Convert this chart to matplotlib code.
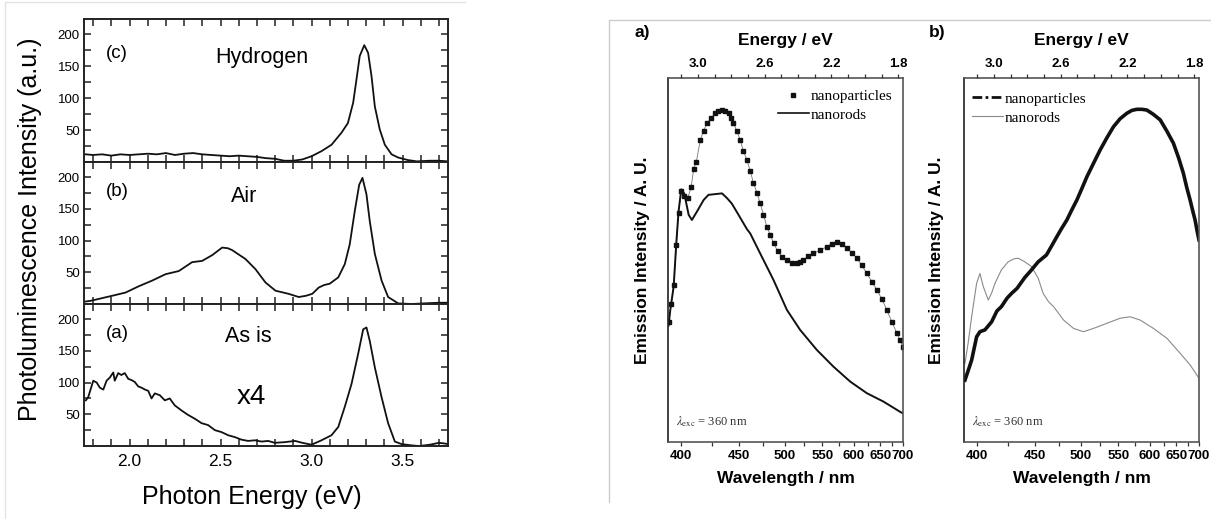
import matplotlib.pyplot as plt
import numpy as np
from matplotlib.lines import Line2D
from matplotlib.ticker import FixedLocator, FixedFormatter, MultipleLocator, NullFormatter

# ---- left figure: PL spectra vs photon energy (eV), intensity (a.u.)
hydrogen_ev = [1.76, 1.80, 1.85, 1.90, 1.95, 2.00, 2.05, 2.10, 2.15, 2.20, 2.25, 2.30,
               2.35, 2.40, 2.45, 2.50, 2.55, 2.60, 2.65, 2.70, 2.75, 2.80, 2.85, 2.90,
               2.95, 3.00, 3.055, 3.11, 3.165, 3.20, 3.229, 3.247, 3.265, 3.29, 3.311,
               3.33, 3.348, 3.375, 3.403, 3.44, 3.476, 3.53, 3.58, 3.65, 3.70, 3.75]
hydrogen_pl = [12, 11, 12, 10, 12, 11, 12, 13, 12, 14, 11, 13,
               14, 12, 11, 10, 9, 10, 9, 8, 6, 5, 2, 2,
               4, 9, 17, 27, 46, 61, 93, 129, 166, 183, 171,
               134, 87, 51, 27, 12, 7, 3, 1, 2, 2, 1]

air_ev = [1.76, 1.786, 1.831, 1.905, 1.978, 2.051, 2.125, 2.198, 2.271, 2.344, 2.399,
          2.454, 2.509, 2.54, 2.564, 2.637, 2.692, 2.747, 2.802, 2.875, 2.93, 2.97,
          3.004, 3.04, 3.07, 3.10, 3.147, 3.183, 3.21, 3.238, 3.262, 3.28, 3.302,
          3.32, 3.348, 3.385, 3.421, 3.476, 3.55, 3.62, 3.70, 3.75]
air_pl = [4, 5, 8, 13, 18, 28, 37, 47, 52, 66, 68,
          77, 89, 88, 85, 71, 55, 34, 21, 16, 11, 13,
          16, 26, 30, 32, 42, 63, 94, 147, 188, 199, 173,
          131, 79, 37, 11, 1, 0, 1, 2, 2]

asis_ev = [1.76, 1.773, 1.801, 1.82, 1.837, 1.856, 1.874, 1.892, 1.911, 1.919, 1.938,
           1.955, 1.974, 1.993, 2.011, 2.029, 2.048, 2.066, 2.085, 2.103, 2.121, 2.139,
           2.167, 2.194, 2.221, 2.249, 2.286, 2.322, 2.359, 2.396, 2.432, 2.469, 2.505,
           2.542, 2.579, 2.615, 2.652, 2.689, 2.725, 2.762, 2.798, 2.85, 2.91, 2.95,
           3.00, 3.055, 3.11, 3.147, 3.183, 3.22, 3.256, 3.284, 3.302, 3.32, 3.348,
           3.385, 3.421, 3.458, 3.495, 3.55, 3.59, 3.65, 3.70, 3.73, 3.75]
asis_pl = [72, 77, 103, 100, 92, 89, 103, 108, 116, 103, 115,
           112, 115, 106, 104, 101, 94, 92, 89, 87, 75, 83,
           80, 72, 75, 64, 56, 49, 43, 36, 33, 25, 22,
           17, 14, 10, 8, 9, 7, 8, 5, 6, 8, 5,
           2, 9, 17, 30, 62, 98, 145, 184, 187, 166, 124,
           77, 36, 7, 3, 1, 0, 2, 5, 4, 3]

# ---- right figure a): emission vs wavelength (nm)
a_np_nm = [390.4, 392.5, 394.2, 396.2, 397.9, 400.0, 402.3, 405.0, 407.8, 409.8, 412.0,
           415.3, 418.0, 420.9, 424.5, 428.1, 431.0, 434.0, 437.0, 440.2, 442.5, 444.9,
           448.0, 451.4, 454.5, 458.1, 461.5, 464.9, 468.5, 472.0, 475.5, 479.3, 483.0,
           486.8, 491.5, 496.6, 502.6, 508.5, 515.2, 519.5, 523.6, 530.0, 537.3, 547.0,
           556.6, 564.0, 572.0, 580.0, 588.2, 596.5, 605.5, 614.5, 623.8, 633.5, 643.2,
           653.5, 663.8, 674.5, 685.8, 693.0, 699.4]
a_np_int = [33, 38, 43, 54, 63, 69, 67.5, 67, 70, 75, 77,
            83, 85.5, 87.6, 89, 90.3, 91, 91.2, 91, 90.3, 89, 87.6,
            85.5, 83, 80, 77.5, 74.5, 71.1, 68.5, 65.6, 62.5, 59.2, 57,
            54.6, 52.5, 50.9, 50, 49.3, 49.1, 49.5, 50, 51, 51.8, 52.8,
            53.6, 54.5, 55, 54.5, 53.2, 52, 50.5, 48.5, 46.3, 44, 41.8,
            39.2, 36.3, 33, 29.9, 28, 26.2]

a_nr_nm = [390.4, 391.7, 394.2, 396.2, 397.9, 400.0, 402.3, 405.8, 408.4, 412.5, 418.1,
           422.2, 428.1, 434.2, 438.8, 443.3, 449.8, 458.1, 461.5, 472.0, 486.8, 502.6,
           519.3, 542.0, 566.7, 593.9, 623.8, 656.6, 693.1, 699.4]
a_nr_int = [32, 36.3, 42.7, 54.6, 63.3, 69.4, 68.3, 62.4, 61, 63.3, 66.5,
            67.9, 68.1, 68.3, 67, 65.5, 62.4, 58.5, 57.3, 51.8, 44.5, 36.3,
            30.8, 25.3, 20.7, 16.6, 13.4, 11.1, 8.3, 7.9]

# ---- right figure b)
b_np_nm = [390.7, 393.0, 395.7, 399.5, 402.1, 406.0, 411.4, 415.8, 419.6, 424.4, 428.3,
           433.3, 440.5, 446.0, 453.4, 461.8, 467.0, 472.7, 478.0, 483.8, 489.5, 495.4,
           501.5, 507.6, 516.0, 524.5, 533.5, 542.9, 552.5, 562.6, 570.5, 578.4, 586.5,
           595.0, 606.5, 618.8, 631.0, 644.2, 655.0, 664.9, 672.0, 679.5, 685.5, 690.8,
           695.5, 700.0]
b_np_int = [17, 19.5, 22.5, 28.9, 30.3, 30.8, 33, 36, 37.2, 39.5, 40.8,
            42.2, 45.2, 47, 49.5, 51.4, 53.8, 56.4, 58.7, 61, 63.8, 66.5,
            69.7, 72.9, 76.6, 80.2, 83.5, 86.6, 88.8, 90.3, 91.1, 91.4, 91.4,
            91.2, 90, 88.5, 85.5, 82.1, 78, 73.8, 70, 66.5, 63.5, 61,
            58, 55.5]

b_nr_nm = [390.7, 393.0, 395.7, 399.5, 402.1, 404.7, 408.7, 411.5, 414.2, 419.6, 425.4,
           430.3, 434.3, 440.5, 446.8, 453.4, 458.4, 464.0, 469.2, 480.1, 491.5, 503.4,
           515.8, 533.6, 552.6, 567.8, 583.8, 606.6, 631.4, 657.8, 679.5, 700.0]
b_nr_int = [21.6, 27, 34.4, 43.6, 46.3, 42.7, 39, 41, 43.6, 47.3, 49.5,
            50.3, 50.5, 49.5, 48.2, 45, 40.8, 38.5, 37.2, 33.5, 31.2, 30.3,
            31.2, 32.6, 34, 34.4, 33.5, 31.2, 28.5, 24.4, 21.2, 17.5]

wl_ticks = [400, 450, 500, 550, 600, 650, 700]
wl_minor = [425, 475, 525, 575, 625, 675]
ev_labels = [3.0, 2.6, 2.2, 1.8]
ev_minor = [3.1, 2.9, 2.8, 2.7, 2.5, 2.4, 2.3, 2.1, 2.0, 1.9]

W, H = 1211, 519
HC = 1239.84


def box(l, t, r, b):
    return [l / W, 1 - b / H, (r - l) / W, (b - t) / H]


def inv_wl(w):
    w = np.asarray(w, float)
    with np.errstate(divide='ignore'):
        return -1.0 / w


plt.rcParams['font.family'] = ['Liberation Sans', 'DejaVu Sans']
plt.rcParams['mathtext.fontset'] = 'stix'
serif = ['Liberation Serif', 'DejaVu Serif']

fig = plt.figure(figsize=(W / 100, H / 100), dpi=100)

# ---------------- left: three stacked PL panels
panels = [
    (box(84, 19, 448, 162), hydrogen_ev, hydrogen_pl, '(c)', 'Hydrogen', 53, 57, 262),
    (box(84, 162, 448, 304), air_ev, air_pl, '(b)', 'Air', 192, 197, 244),
    (box(84, 304, 448, 446), asis_ev, asis_pl, '(a)', 'As is', 333, 336, 248),
]
for i, (rect, x, y, tag, name, ty, ny, nx) in enumerate(panels):
    ax = fig.add_axes(rect)
    ax.plot(x, y, color='#111111', lw=1.3)
    ax.set_xlim(1.75, 3.75)
    ax.set_ylim(0, 224)
    ax.xaxis.set_major_locator(MultipleLocator(0.5))
    ax.xaxis.set_minor_locator(MultipleLocator(0.1))
    ax.yaxis.set_major_locator(FixedLocator([50, 100, 150, 200]))
    ax.yaxis.set_minor_locator(FixedLocator([25, 75, 125, 175]))
    ax.tick_params(which='both', direction='in', top=True, right=True,
                   length=5, width=1.1, color='#222222')
    ax.tick_params(axis='y', labelsize=9.5, pad=3)
    ax.tick_params(axis='x', labelsize=12.5, pad=6)
    if i < 2:
        ax.tick_params(axis='x', labelbottom=False)
    for sp in ax.spines.values():
        sp.set_linewidth(1.4)
        sp.set_color('#222222')
    fig.text(117 / W, 1 - ty / H, tag, fontsize=13.5, ha='center', va='center')
    fig.text(nx / W, 1 - ny / H, name, fontsize=15.5, ha='center', va='center')

fig.text(251 / W, 1 - 397 / H, 'x4', fontsize=20, ha='center', va='center')
fig.text(30 / W, 1 - 229 / H, 'Photoluminescence Intensity (a.u.)', fontsize=18,
         rotation=90, ha='center', va='center')
fig.text(252 / W, 1 - 497 / H, 'Photon Energy (eV)', fontsize=18,
         ha='center', va='center')

# ---------------- right: emission spectra a) and b)
right = [
    (box(668, 78, 903, 442), 'a)', 642),
    (box(964, 78, 1199, 442), 'b)', 937),
]
axes_r = []
for rect, tag, lx in right:
    ax = fig.add_axes(rect)
    ax.set_xscale('function', functions=(inv_wl, inv_wl))
    ax.set_xlim(390, 700)
    ax.set_ylim(0, 100)
    ax.set_yticks([])
    ax.xaxis.set_major_locator(FixedLocator(wl_ticks))
    ax.xaxis.set_major_formatter(FixedFormatter([str(v) for v in wl_ticks]))
    ax.xaxis.set_minor_locator(FixedLocator(wl_minor))
    ax.xaxis.set_minor_formatter(NullFormatter())
    ax.tick_params(axis='x', which='both', direction='out', length=3, width=0.9,
                   labelsize=9.5, pad=3, color='#333333')
    for lab in ax.get_xticklabels():
        lab.set_fontweight('bold')
    for sp in ax.spines.values():
        sp.set_linewidth(1.2)
        sp.set_color('#555555')
    ax.spines['left'].set_color('#222222')

    top = ax.twiny()
    top.set_xscale('function', functions=(inv_wl, inv_wl))
    top.set_xlim(390, 700)
    top.xaxis.set_major_locator(FixedLocator([HC / e for e in ev_labels]))
    top.xaxis.set_major_formatter(FixedFormatter(['%.1f' % e for e in ev_labels]))
    top.xaxis.set_minor_locator(FixedLocator([HC / e for e in ev_minor]))
    top.xaxis.set_minor_formatter(NullFormatter())
    top.tick_params(axis='x', which='both', direction='out', length=3, width=0.9,
                    labelsize=9.5, pad=3, color='#333333')
    for lab in top.get_xticklabels():
        lab.set_fontweight('bold')
    for sp in top.spines.values():
        sp.set_visible(False)

    x0 = rect[0] + rect[2] / 2
    fig.text(x0, 1 - 41 / H, 'Energy / eV', fontsize=12.5, fontweight='bold',
             ha='center', va='center')
    fig.text(x0, 1 - 478 / H, 'Wavelength / nm', fontsize=12.5, fontweight='bold',
             ha='center', va='center')
    fig.text(lx / W, 1 - 260 / H, 'Emission Intensity / A. U.', fontsize=12.5,
             fontweight='bold', rotation=90, ha='center', va='center')
    fig.text(lx / W, 1 - 33 / H, tag, fontsize=12.5, fontweight='bold',
             ha='center', va='center')
    ax.text(0.035, 0.055, r'$\lambda_{\rm exc}$ = 360 nm', transform=ax.transAxes,
            fontsize=9, family=serif, color='#333333', ha='left', va='center')
    axes_r.append(ax)

ax_a, ax_b = axes_r
ax_a.plot(a_np_nm, a_np_int, color='#777777', lw=0.6, marker='s', ms=2.2,
          mfc='#111111', mec='#111111')
ax_a.plot(a_nr_nm, a_nr_int, color='#111111', lw=1.4)
h_a = [Line2D([], [], ls='none', marker='s', ms=2.4, color='#111111'),
       Line2D([], [], color='#111111', lw=1.2)]
ax_a.legend(h_a, ['nanoparticles', 'nanorods'], loc='upper left',
            bbox_to_anchor=(0.468, 0.968), frameon=False, borderpad=0,
            borderaxespad=0, handlelength=2.0, handletextpad=0.15,
            labelspacing=0.3, numpoints=1, prop={'family': serif, 'size': 11})

ax_b.plot(b_nr_nm, b_nr_int, color='#8a8a8a', lw=0.8)
ax_b.plot(b_np_nm, b_np_int, color='#111111', lw=2.6)
h_b = [Line2D([], [], color='#111111', lw=2.0, ls=(0, (3.5, 1.2, 1.0, 1.2))),
       Line2D([], [], color='#8a8a8a', lw=0.8)]
ax_b.legend(h_b, ['nanoparticles', 'nanorods'], loc='upper left',
            bbox_to_anchor=(0.035, 0.962), frameon=False, borderpad=0,
            borderaxespad=0, handlelength=2.0, handletextpad=0.15,
            labelspacing=0.35, prop={'family': serif, 'size': 11})

# light frames of the two source pictures
fig.add_artist(Line2D([5 / W, 5 / W, 465 / W], [0, 1 - 2 / H, 1 - 2 / H],
                      color='#e4e4e4', lw=1))
fig.add_artist(Line2D([609 / W, 609 / W, 1], [1 - 502 / H, 1 - 20 / H, 1 - 20 / H],
                      color='#cccccc', lw=1))

fig.savefig('out.png', dpi=100)
